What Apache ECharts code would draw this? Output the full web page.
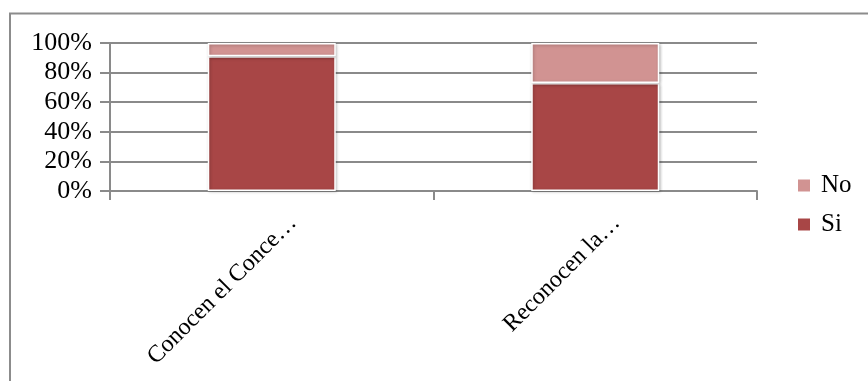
<!DOCTYPE html>
<html>
<head>
<meta charset="utf-8">
<script src="https://cdn.jsdelivr.net/npm/echarts@6/dist/echarts.min.js"></script>
<style>
  html, body { margin: 0; padding: 0; background: #ffffff; }
  #chart { width: 868px; height: 381px; }
</style>
</head>
<body>
<div id="chart"></div>
<script>
// Survey answers, shown as a 100% stacked column per question
const categories = ['Conocen el Conce…', 'Reconocen la…'];
const siValues = [91, 73];
const noValues = [9, 27];
const yTicks = [0, 20, 40, 60, 80, 100];

const serif = 'Liberation Serif';
const axisGray = '#8a8a8a';

const chart = echarts.init(document.getElementById('chart'));

chart.setOption({
  backgroundColor: '#ffffff',
  animation: false,
  graphic: [{
    type: 'rect',
    silent: true,
    shape: { x: 10, y: 13.5, width: 900, height: 420 },
    style: { fill: 'none', stroke: '#8c8c8c', lineWidth: 2 }
  }],
  legend: {
    orient: 'vertical',
    left: 791,
    top: 168,
    itemWidth: 14,
    itemHeight: 14,
    itemGap: 14,
    icon: 'rect',
    data: ['No', 'Si'],
    textStyle: { fontFamily: serif, fontSize: 25, color: '#000000', padding: [0, 0, 0, 5] }
  },
  grid: {
    left: 110,
    right: 111,
    top: 43,
    bottom: 190,
    containLabel: false,
    outerBoundsMode: 'none'
  },
  xAxis: {
    type: 'category',
    data: categories,
    boundaryGap: true,
    axisLine: { show: true, lineStyle: { color: axisGray, width: 2 } },
    axisTick: { show: true, length: 9, alignWithLabel: false, lineStyle: { color: axisGray, width: 2 } },
    axisLabel: {
      interval: 0,
      rotate: 45,
      margin: 7,
      align: 'right',
      verticalAlign: 'top',
      lineHeight: 60,
      fontFamily: serif,
      fontSize: 24,
      color: '#000000'
    }
  },
  yAxis: {
    type: 'value',
    min: yTicks[0],
    max: yTicks[yTicks.length - 1],
    interval: yTicks[1] - yTicks[0],
    axisLine: { show: true, lineStyle: { color: axisGray, width: 2 } },
    axisTick: { show: true, length: 10, lineStyle: { color: axisGray, width: 2 } },
    splitLine: { show: true, lineStyle: { color: axisGray, width: 2 } },
    axisLabel: {
      margin: 18,
      formatter: '{value}%',
      fontFamily: serif,
      fontSize: 26,
      color: '#000000'
    }
  },
  series: [
    {
      name: 'Si',
      type: 'bar',
      stack: 'total',
      barWidth: 128,
      data: siValues,
      itemStyle: {
        color: '#a84646',
        borderColor: '#ffffff',
        borderWidth: 1.5,
        shadowBlur: 3,
        shadowColor: 'rgba(0,0,0,0.25)',
        shadowOffsetX: 1,
        shadowOffsetY: 1
      }
    },
    {
      name: 'No',
      type: 'bar',
      stack: 'total',
      barWidth: 128,
      data: noValues,
      itemStyle: {
        color: '#d19392',
        borderColor: '#ffffff',
        borderWidth: 1.5,
        shadowBlur: 3,
        shadowColor: 'rgba(0,0,0,0.25)',
        shadowOffsetX: 1,
        shadowOffsetY: 1
      }
    }
  ]
});
</script>
</body>
</html>
